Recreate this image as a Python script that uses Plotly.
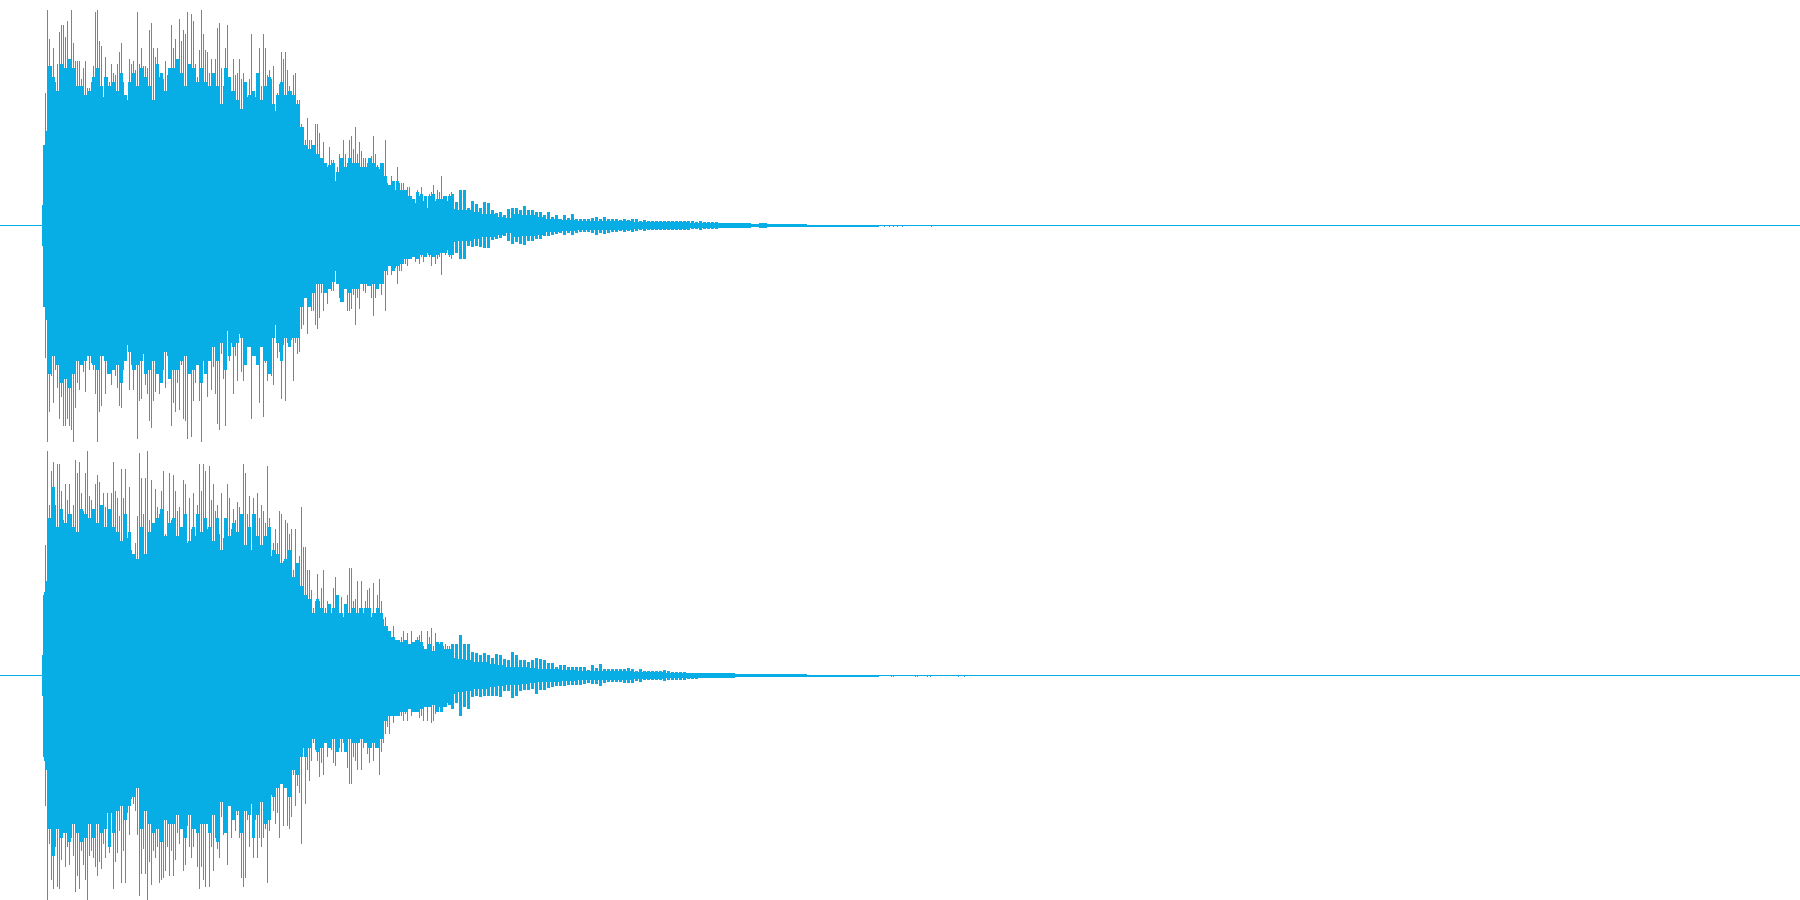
import plotly.graph_objects as go
from plotly.subplots import make_subplots

# Peak amplitude, in percent of full scale, per stretch of the recording.
# ch1 = upper channel, ch2 = lower channel; pos = above zero, neg = below zero.
onset_ch1_pos = [9, 36, 36, 59, 42]
onset_ch1_neg = [9, 36, 36, 59, 42]
onset_ch2_pos = [9, 36, 37, 58, 42]
onset_ch2_neg = [9, 36, 38, 58, 42]

body_ch1_pos = [96,83,71,79,64,72,86,89,89,84,91,72,96,81,73,73,73,65,70,73,61,61,64,71,95,96,82,80,57,75,66,64,72,68,67,72,77,81,64,58,56,74,72,73,69,95,72,79,71,71,70,87,90,79,75,79,66,61,65,73,67,59,89,79,83,73,92,82,87,85,95,72,94,91,72,66,78,96,85,78,77,68,74,67,74,88,90,70,62,79,89,51,60,74,67,68,74,65,68,60,57,65,85,57,57,45,79,62,85,79,67,69,65,71,51,59,63,77,74,77,69,62,60,67,68,56,56,45,44,38,48,38,38,36,45,45,41,29,37,25,26,35,29,29,19,26,32,18,38,32,28,38,40,34,44,32,37,33,30,30,28,26,31,40,32,27,25,27,28,38,19,17,22,19,16,26,19,19,19,16,17,17,13,12,9,16,13,17,11,13,8,14,15,18,11,16,15,22,13,12,11,14,15]
body_ch1_neg = [96,83,67,79,64,72,86,76,89,89,86,89,91,96,81,70,73,61,65,74,58,64,61,64,75,96,83,80,58,75,66,52,71,59,67,72,80,81,64,55,53,73,62,73,64,95,78,77,57,71,75,87,90,78,74,53,75,52,64,72,58,67,89,79,83,70,82,62,86,87,95,50,94,78,70,61,78,96,60,65,76,54,73,63,75,88,91,57,68,89,47,60,52,75,58,69,48,65,69,58,54,44,86,49,58,37,79,44,85,61,69,53,67,71,40,59,56,77,53,78,52,46,51,69,52,57,56,46,44,30,48,31,38,38,44,46,41,30,38,22,35,26,29,29,18,25,32,18,34,26,38,38,37,31,44,32,37,23,29,30,27,27,32,40,32,27,26,31,26,38,22,18,22,16,19,26,20,20,17,17,18,15,15,14,16,12,17,14,16,14,12,14,18,14,17,15,14,22,12,13,11,14,15]
body_ch2_pos = [100,76,91,95,76,94,94,82,69,85,78,85,72,76,96,90,95,81,73,90,100,80,78,69,85,89,86,70,81,75,81,73,81,95,82,79,71,92,79,92,61,84,56,53,59,71,99,88,72,88,100,69,87,61,83,75,72,82,91,63,73,90,69,89,82,73,75,56,87,85,59,79,65,81,62,76,94,82,94,91,65,93,78,85,73,76,63,81,61,49,85,79,65,74,69,77,75,68,94,90,72,80,56,79,72,81,70,76,73,68,93,70,53,59,65,59,73,72,51,69,68,63,65,47,65,50,53,75,57,57,47,47,38,30,33,45,33,39,47,30,33,32,28,39,44,30,28,35,26,30,36,48,48,33,34,42,30,42,28,33,38,39,26,41,28,36,43,33,25,26,22,20,17,22,16,13,16,17,20,16,19,14,20,11,16,17,18,20,13,8,20,17,21,13,19,13,14,13,13,14,13,13,13]
body_ch2_neg = [100,75,91,95,76,94,95,82,70,85,76,84,72,80,96,89,95,78,84,91,100,80,78,81,85,89,83,86,75,81,61,79,61,95,83,79,69,92,78,92,61,71,55,57,60,71,98,88,77,88,100,83,93,78,81,76,92,91,90,87,76,89,78,89,82,70,75,57,87,84,67,76,81,76,68,85,95,85,91,94,66,94,76,87,72,77,81,63,71,49,84,49,72,61,69,62,72,90,94,90,64,76,57,81,64,81,72,76,72,68,92,69,53,60,66,61,72,46,67,49,67,68,63,44,58,49,52,75,32,57,42,47,38,30,33,38,45,39,44,30,36,32,33,39,40,30,32,34,30,24,41,48,48,36,38,42,30,42,32,30,35,39,32,38,32,30,44,34,30,26,23,26,18,21,18,15,18,18,20,17,20,14,18,14,16,16,19,18,20,8,20,14,21,20,17,14,14,15,14,14,12,13,13]

# Level of the close-packed columns just beside the tallest spikes.
shoulder_ch1_pos = [71,66,60,72,70,74,70,62,62,58,60,66,70,62,66,62,64,60,68,58,64,68,62,70,66,62,56,72,68,60,70,70,74,68,62,72,70,64,70,64,62,68,62,54,70,66,60,56,52,64,58,60,68,56,62,66,54,58,64,58,60,58,54,44,36,34,36,32,30,28,27,28,24,30,26,30,28,28,26,26,30,28,26,28,22,18,20,20,16,16,13,12,15,14,13,13,14,12,12,13,13]
shoulder_ch1_neg = [66,58,62,70,68,72,66,60,62,60,58,62,64,58,60,66,64,62,70,60,56,64,62,60,66,64,60,66,70,56,68,64,64,60,58,66,64,62,70,66,60,54,60,52,64,58,54,52,50,62,54,58,62,54,60,66,50,52,60,50,54,50,50,34,32,36,30,26,26,30,28,25,26,34,28,30,28,28,26,26,27,26,28,26,20,18,20,18,17,15,15,14,15,13,14,13,14,13,12,12,13]
shoulder_ch2_pos = [70,84,66,74,68,72,66,64,74,72,70,74,68,76,66,74,66,64,60,72,64,50,46,66,54,64,68,70,74,62,68,70,62,66,72,60,66,72,64,70,66,60,70,56,70,62,68,64,72,58,66,72,62,58,62,66,56,54,50,52,56,44,50,40,36,34,28,34,30,28,32,30,36,28,32,28,30,28,30,30,30,28,30,28,22,20,17,16,15,16,14,15,16,15,12,14,11,15,15,12,12]
shoulder_ch2_neg = [68,80,68,72,70,74,66,70,74,72,66,72,66,70,68,76,70,60,58,64,58,50,48,68,60,66,70,68,74,64,66,66,62,68,72,62,68,70,66,66,70,62,74,56,70,58,64,60,70,60,62,72,62,56,66,64,54,50,48,50,54,42,44,36,36,32,28,34,32,30,32,28,34,28,34,28,30,30,28,30,32,30,32,28,20,18,18,18,16,16,15,16,16,15,14,14,13,16,16,14,13]

# Solid level of the waveform under its spikes.
solid_ch1_pos = [50,52,52,50,50,50,50,48,48,48,48,48,48,48,48,48,48,50,48,48,48,47,47,46,44,44,44,44,44,44,42,36,26,24,22,20,20,20,20,18,18,20,16,13,11,10,10,8,8,8,7.5,7,7,6,5,5,4,3.5,5,4.5,4.5,4,3,2.8,2.4,2.5,2.2,2.1,2.2,2.1,2,1.8,1.8,1.7,1.6,1.5,1.5,1.5,1.4,1.4,1.3,1.3,1.2,1.1]
solid_ch1_neg = [52,53,53,52,50,50,50,50,50,50,50,50,48,48,48,48,48,48,48,48,47,47,46,44,44,44,44,44,44,44,42,36,26,24,22,20,20,20,20,18,18,20,16,13,11,10,10,8,8,8,7.5,7,7,6,5,5,4,3.5,5,4.5,4.5,4,3,2.8,2.4,2.5,2.2,2.1,2.2,2.1,2,1.8,1.8,1.7,1.6,1.5,1.5,1.5,1.4,1.4,1.3,1.3,1.2,1.1]
solid_ch2_pos = [56,56,56,56,55,55,55,55,55,55,54,52,48,44,42,50,52,52,52,52,52,52,52,52,50,50,50,50,48,44,42,34,28,25,24,24,24,24,24,24,24,23,18,15,13,11,11,10,10,9,8,7.5,7,6,6,5,4.5,4,4,3.8,3.5,3,2.8,2.7,2.5,2.3,2.2,2,2,1.8,1.8,1.8,1.8,1.6,1.5,1.5,1.4,1.3,1.3,1.1,1.1,1.1,1.1,1]
solid_ch2_neg = [56,56,56,56,55,55,55,55,55,55,54,50,46,44,44,50,52,52,52,52,52,52,52,52,50,50,50,50,48,44,42,32,28,25,24,24,24,24,24,24,24,23,18,15,13,11,11,10,10,9,8,7.5,7,6,6,5,4.5,4,4,3.8,3.5,3,2.8,2.7,2.5,2.3,2.2,2,2,1.8,1.8,1.8,1.8,1.6,1.5,1.5,1.4,1.3,1.3,1.1,1.1,1.1,1.1,1]

mid_ch1_pos = [14,10.5,16,16,8,11,9.5,8,10.5,10,7,5.5,6,4.6,7.5,8,8,7,8.5,7,7,6,6,4.6,6,4,4.6,3,4.6,3.5,5.3,3,2.7,2.7,2.7,3.3,4,3,3.8,2.7,2.7,3,2.5,2.7,2.5,2.7,2.7,2.2,2.5,2,2,2,2.2,1.8,2,2,2,2,1.8,1.8,1.8,1.6,1.8,1.6,1.5,1.6,1.6]
mid_ch1_neg = [13,12,15,15,9,9.5,9,9.5,10,10,6.5,6,5.5,4.7,7,8,7.5,8,8.7,7,7,6,6,4.7,4.7,4.3,3.8,3.5,4.3,3.5,4.3,3.5,2.8,2.8,3,3.3,4.2,3.3,3.8,3.3,3,3,2.5,2.7,2.6,2.7,2.4,2.2,2.4,2,2,2,2.2,1.8,2,2,2,1.9,1.8,1.8,1.7,1.6,1.8,1.6,1.5,1.5,1.5]
mid_ch2_pos = [14,14,18,14,14,10.5,10,9,10,9,8,9.5,9,7.5,7,10.5,9,7,7,6,7,8,7.5,7,5.5,5.5,4,4.6,4.6,4,4,3.8,4,3.8,2.4,4.6,3.5,5.3,3,2.7,2.7,3,2.7,3,3.5,2.7,2.1,2.7,1.8,2.1,2.1,1.8,1.8,2.4,1.8,1.6,1.5,1.6,1.5,1.2,1.2,1.3,1.2,1.2,1.3,1.2,1.2]
mid_ch2_neg = [15,12,18,14,15,9.5,9,9.5,9,9,9,9,9.5,7,7,10,9,7,6.5,6.5,6,8,6.5,6.5,5.7,5.3,4.7,4.7,4.7,4.4,4.3,4.3,4.3,3.8,3.3,3.8,3.8,4.7,3.5,3,2.8,3,3.1,3.3,3.5,3.5,2.4,2.7,2.1,1.8,1.8,2.1,2.1,2.4,1.8,1.8,1.8,1.8,1.8,1.5,1.5,1.4,1.3,1.3,1.3,1.2,1.2]

tail_ch1 = [1.2,1.0,1.0,0.9,0.8,0.9,0.8,0.8,0.8,0.8,0.6,0.4,0.4,0.4,0.4,0.4,0.4,0.4,0.4,0.4]
tail_ch2 = [1.0,1.0,0.8,0.8,0.8,0.8,0.8,0.8,0.7,0.7,0.7,0.4,0.4,0.4,0.4,0.4,0.4,0.4,0.4,0.4]

sparse_ch1_col = [878, 884, 889, 893, 897, 902, 931]
sparse_ch2_col = [891, 893, 915, 917, 927, 930, 958, 964]
sparse_level = 0.4

COLOR = "#06AEE5"
ONSET_COL, BODY_COL, SHOULDER_COL, MID_COL, TAIL_COL = 42, 47, 48, 451, 719
SCALE_LOW, SCALE_HIGH = -224.5 / 2.25, 225.5 / 2.25


def stretch(start, step, width, pos, neg):
    n = min(len(pos), len(neg))
    return ([start + step * i + width / 2 for i in range(n)],
            [width] * n, list(pos[:n]), list(neg[:n]))


def channel(parts, sparse_cols):
    xs, ws, tops, bots = [], [], [], []
    for start, step, width, pos, neg in parts:
        x, w, t, b = stretch(start, step, width, pos, neg)
        xs += x; ws += w; tops += t; bots += b
    for c in sparse_cols:
        xs.append(c + 0.5); ws.append(1)
        tops.append(sparse_level); bots.append(sparse_level)
    return xs, ws, tops, bots


channels = [
    ([(ONSET_COL, 1, 1, onset_ch1_pos, onset_ch1_neg),
      (BODY_COL, 2, 1, body_ch1_pos, body_ch1_neg),
      (SHOULDER_COL, 4, 3, shoulder_ch1_pos, shoulder_ch1_neg),
      (BODY_COL, 8, 8, solid_ch1_pos, solid_ch1_neg),
      (MID_COL, 4, 3, mid_ch1_pos, mid_ch1_neg),
      (TAIL_COL, 8, 8, tail_ch1, tail_ch1)], sparse_ch1_col),
    ([(ONSET_COL, 1, 1, onset_ch2_pos, onset_ch2_neg),
      (BODY_COL, 2, 1, body_ch2_pos, body_ch2_neg),
      (SHOULDER_COL, 4, 3, shoulder_ch2_pos, shoulder_ch2_neg),
      (BODY_COL, 8, 8, solid_ch2_pos, solid_ch2_neg),
      (MID_COL, 4, 3, mid_ch2_pos, mid_ch2_neg),
      (TAIL_COL, 8, 8, tail_ch2, tail_ch2)], sparse_ch2_col),
]

fig = make_subplots(rows=2, cols=1, shared_xaxes=True, vertical_spacing=0)
for row, (parts, sparse) in enumerate(channels, start=1):
    xs, ws, tops, bots = channel(parts, sparse)
    fig.add_trace(go.Scatter(x=[0, 1800], y=[0, 0], mode="lines",
                             line=dict(color=COLOR, width=1),
                             hoverinfo="skip"), row=row, col=1)
    fig.add_trace(go.Bar(x=xs, width=ws, base=[-b for b in bots],
                         y=[t + b for t, b in zip(tops, bots)],
                         marker=dict(color=COLOR, line=dict(width=0))),
                  row=row, col=1)

fig.update_xaxes(range=[0, 1800], visible=False)
fig.update_yaxes(range=[SCALE_LOW, SCALE_HIGH], visible=False)
fig.update_layout(width=1800, height=900, margin=dict(l=0, r=0, t=0, b=0),
                  paper_bgcolor="white", plot_bgcolor="white",
                  showlegend=False, barmode="overlay", bargap=0)
fig.write_html("out.html", config={"displayModeBar": False},
               post_script="document.body.style.margin='0';")
